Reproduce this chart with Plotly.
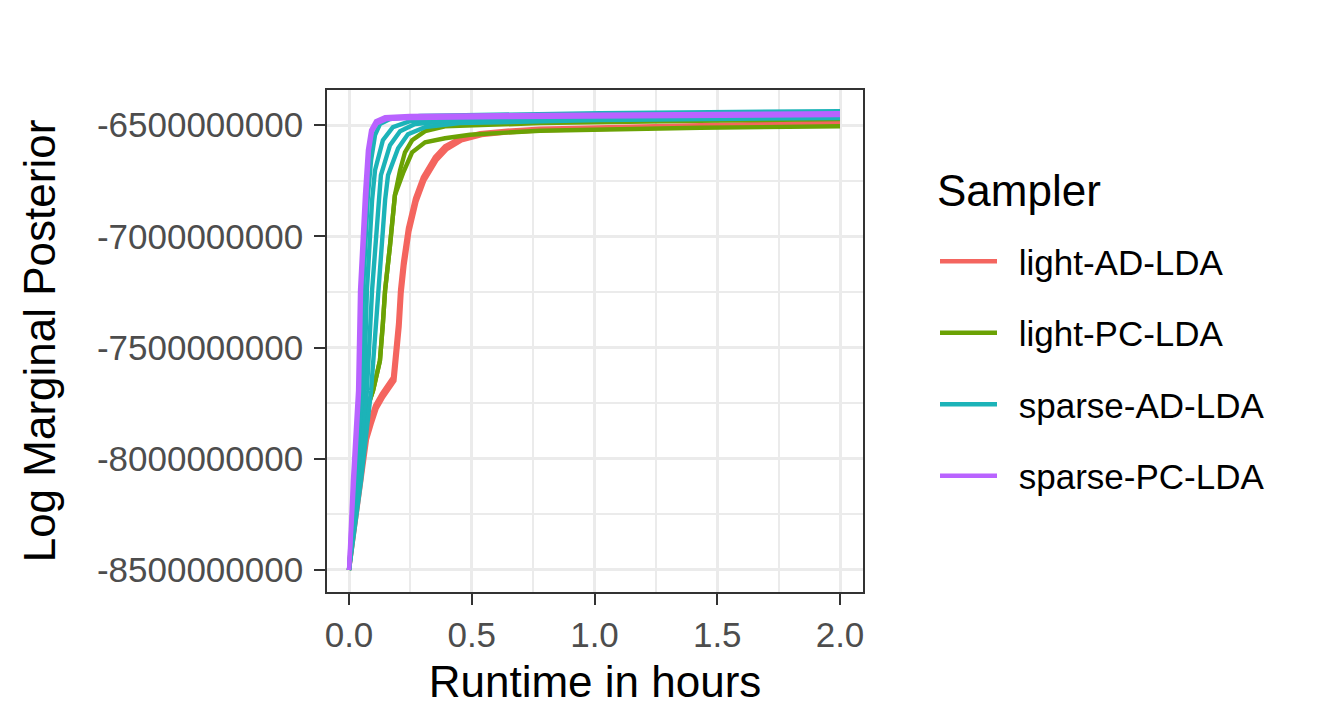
import plotly.graph_objects as go

# ---------------- data ----------------
samplers = ["light-AD-LDA", "light-PC-LDA", "sparse-AD-LDA", "sparse-PC-LDA"]
colors = ["#F4655F", "#6BA204", "#1CB3B8", "#B963FF"]

# light-AD-LDA runs
lad_t1 = [0, 0.069, 0.086, 0.106, 0.134, 0.179, 0.200, 0.208, 0.220, 0.240, 0.269, 0.301, 0.350, 0.391, 0.452, 0.534, 0.644, 0.778, 1.430, 2.0]
lad_v1 = [-8.500e9, -7.905e9, -7.829e9, -7.761e9, -7.707e9, -7.635e9, -7.392e9, -7.243e9, -7.117e9, -6.964e9, -6.829e9, -6.734e9, -6.644e9, -6.595e9, -6.559e9, -6.536e9, -6.525e9, -6.516e9, -6.500e9, -6.489e9]
lad_t2 = [0, 0.073, 0.092, 0.112, 0.140, 0.185, 0.206, 0.214, 0.226, 0.246, 0.275, 0.307, 0.356, 0.397, 0.458, 0.540, 0.650, 0.784, 1.436, 2.0]
lad_v2 = [-8.500e9, -7.914e9, -7.843e9, -7.775e9, -7.721e9, -7.649e9, -7.406e9, -7.257e9, -7.131e9, -6.978e9, -6.843e9, -6.748e9, -6.658e9, -6.609e9, -6.568e9, -6.545e9, -6.532e9, -6.523e9, -6.507e9, -6.497e9]

# light-PC-LDA runs
lpc_t1 = [0, 0.029, 0.057, 0.073, 0.098, 0.126, 0.138, 0.147, 0.167, 0.187, 0.208, 0.228, 0.257, 0.310, 0.391, 0.778, 1.430, 2.0]
lpc_v1 = [-8.500e9, -8.099e9, -7.905e9, -7.775e9, -7.694e9, -7.559e9, -7.392e9, -7.243e9, -7.041e9, -6.815e9, -6.703e9, -6.622e9, -6.568e9, -6.527e9, -6.505e9, -6.491e9, -6.480e9, -6.473e9]
lpc_t2 = [0, 0.029, 0.057, 0.073, 0.098, 0.126, 0.138, 0.147, 0.167, 0.187, 0.220, 0.257, 0.310, 0.391, 0.493, 0.778, 1.430, 2.0]
lpc_v2 = [-8.500e9, -8.099e9, -7.905e9, -7.775e9, -7.694e9, -7.559e9, -7.392e9, -7.243e9, -7.041e9, -6.815e9, -6.716e9, -6.622e9, -6.577e9, -6.559e9, -6.543e9, -6.525e9, -6.512e9, -6.505e9]

# sparse-AD-LDA runs
sad_t1 = [0, 0.033, 0.049, 0.057, 0.077, 0.090, 0.106, 0.126, 0.167, 0.289, 1.022, 2.0]
sad_v1 = [-8.500e9, -8.099e9, -7.694e9, -7.243e9, -6.815e9, -6.658e9, -6.545e9, -6.495e9, -6.473e9, -6.459e9, -6.446e9, -6.437e9]
sad_t2 = [0, 0.037, 0.061, 0.073, 0.094, 0.106, 0.138, 0.179, 0.248, 0.411, 1.022, 2.0]
sad_v2 = [-8.500e9, -8.099e9, -7.694e9, -7.243e9, -6.838e9, -6.703e9, -6.568e9, -6.509e9, -6.482e9, -6.468e9, -6.459e9, -6.450e9]
sad_t3 = [0, 0.041, 0.073, 0.094, 0.122, 0.130, 0.167, 0.208, 0.269, 0.411, 1.022, 2.0]
sad_v3 = [-8.500e9, -8.099e9, -7.694e9, -7.243e9, -6.838e9, -6.725e9, -6.590e9, -6.527e9, -6.495e9, -6.482e9, -6.473e9, -6.464e9]
sad_t4 = [0, 0.049, 0.090, 0.118, 0.147, 0.159, 0.200, 0.240, 0.310, 0.452, 1.022, 2.0]
sad_v4 = [-8.500e9, -8.099e9, -7.694e9, -7.243e9, -6.838e9, -6.725e9, -6.604e9, -6.541e9, -6.509e9, -6.491e9, -6.477e9, -6.468e9]

# sparse-PC-LDA runs
spc_t1 = [0, 0.016, 0.037, 0.045, 0.065, 0.077, 0.090, 0.110, 0.147, 0.248, 0.615, 1.430, 2.0]
spc_v1 = [-8.500e9, -8.099e9, -7.694e9, -7.243e9, -6.815e9, -6.613e9, -6.523e9, -6.482e9, -6.464e9, -6.459e9, -6.455e9, -6.450e9, -6.446e9]
spc_t2 = [0, 0.020, 0.041, 0.049, 0.069, 0.081, 0.094, 0.114, 0.151, 0.252, 0.619, 1.434, 2.0]
spc_v2 = [-8.500e9, -8.099e9, -7.694e9, -7.243e9, -6.815e9, -6.613e9, -6.527e9, -6.491e9, -6.473e9, -6.468e9, -6.464e9, -6.459e9, -6.455e9]

runs = [
    (0, lad_t1, lad_v1), (0, lad_t2, lad_v2),
    (1, lpc_t1, lpc_v1), (1, lpc_t2, lpc_v2),
    (2, sad_t1, sad_v1), (2, sad_t2, sad_v2), (2, sad_t3, sad_v3), (2, sad_t4, sad_v4),
    (3, spc_t1, spc_v1), (3, spc_t2, spc_v2),
]

x_ticks = [0, 0.5, 1.0, 1.5, 2.0]
x_ticktext = ["0.0", "0.5", "1.0", "1.5", "2.0"]
y_ticks = [-6.5e9, -7.0e9, -7.5e9, -8.0e9, -8.5e9]
y_ticktext = ["-6500000000", "-7000000000", "-7500000000", "-8000000000", "-8500000000"]

# ---------------- figure ----------------
fig = go.Figure()
shown = set()
for k, t, v in runs:
    fig.add_trace(go.Scatter(
        x=t, y=v, mode="lines",
        line=dict(color=colors[k], width=4.4),
        name=" \u2009" + samplers[k], legendgroup=samplers[k],
        showlegend=k not in shown,
    ))
    shown.add(k)

FONT = "Liberation Sans, Arial, Helvetica, sans-serif"
axis_common = dict(
    showgrid=True, gridcolor="#EBEBEB", gridwidth=3,
    zeroline=False, showline=True, linecolor="#333333", linewidth=1.6, mirror=True,
    ticks="outside", ticklen=11, tickwidth=1.6, tickcolor="#333333",
    tickfont=dict(family=FONT, size=35, color="#4D4D4D"),
)
fig.update_layout(
    width=1320, height=720,
    margin=dict(l=319, r=465, t=82, b=136),
    paper_bgcolor="white", plot_bgcolor="white",
    font=dict(family=FONT, color="black"),
    xaxis=dict(
        range=[-0.0896, 2.0937], tickvals=x_ticks, ticktext=x_ticktext,
        minor=dict(dtick=0.25, tick0=0, showgrid=True, gridcolor="#EBEBEB", gridwidth=1.8, ticks=""),
        title=dict(text="Runtime in hours", font=dict(family=FONT, size=44, color="black"), standoff=13),
        **axis_common,
    ),
    yaxis=dict(
        range=[-8.599e9, -6.342e9], tickvals=y_ticks, ticktext=y_ticktext,
        minor=dict(dtick=0.25e9, tick0=-8.5e9, showgrid=True, gridcolor="#EBEBEB", gridwidth=1.8, ticks=""),
        title=dict(text="Log Marginal Posterior", font=dict(family=FONT, size=44, color="black"), standoff=27),
        ticklabelstandoff=4,
        **axis_common,
    ),
    legend=dict(
        font=dict(family=FONT, size=35, color="black"),
        x=(935 - 327) / 536, xanchor="left",
        y=1 - (232 - 90) / 502, yanchor="top",
        tracegroupgap=23, itemwidth=57, bgcolor="rgba(0,0,0,0)",
    ),
    annotations=[dict(
        text="Sampler", xref="paper", yref="paper",
        x=(935 - 327) / 536, y=1 - (190 - 90) / 502,
        xanchor="left", yanchor="middle", showarrow=False,
        font=dict(family=FONT, size=44, color="black"),
    )],
)
fig.write_html("out.html")
